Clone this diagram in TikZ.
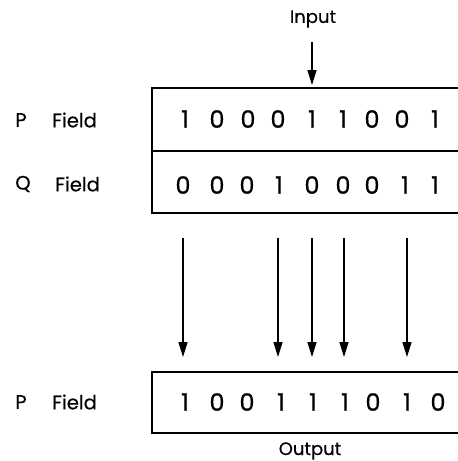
\documentclass[tikz,border=0pt]{standalone}
\usepackage{fontspec}
\setmainfont{Poppins}
\newfontfamily\heavyfont{Poppins}[FakeBold=0.7]
\newfontfamily\midfont{Poppins}[FakeBold=0.4]
\usetikzlibrary{arrows.meta}
\tikzset{
  boxline/.style={line width=2.4pt, line cap=rect},
  midline/.style={line width=2pt},
  flow/.style={line width=1.4pt, -{Triangle[length=15pt,width=9pt]}},
  digit/.style={font=\heavyfont\fontsize{24}{24}\selectfont, inner sep=0pt, anchor=center},
  lbl/.style={font=\midfont\fontsize{19.5}{19.5}\selectfont, inner sep=0pt},
  captext/.style={font=\midfont\fontsize{18}{18}\selectfont, inner sep=0pt},
}
\begin{document}
\begin{tikzpicture}[x=1pt,y=-1pt]
\useasboundingbox (0,0) rectangle (458,461);
% boxes
\draw[boxline] (458,88) -- (152,88) -- (152,213) -- (458,213);
\draw[midline] (152,151) -- (458,151);
\draw[boxline] (458,372) -- (152,372) -- (152,433) -- (458,433);
% labels
\node[lbl] (pl) at (21,120) {P};
\node[lbl, anchor=west] (pf) at (52,120) {Field};
\node[lbl] (ql) at (23,184) {Q};
\node[lbl, anchor=west] (qf) at (55,184) {Field};
\node[lbl] (ol) at (21,402) {P};
\node[lbl, anchor=west] (of) at (52,402) {Field};
% digits
\foreach \x/\d [count=\i] in {185/1,217/0,248/0,278/0,312/1,343/1,372/0,402/0,435/1}
  \node[digit] (p\i) at (\x,119) {\d};
\foreach \x/\d [count=\i] in {183/0,217/0,247/0,279/1,312/0,343/0,372/0,405/1,435/1}
  \node[digit] (q\i) at (\x,185) {\d};
\foreach \x/\d [count=\i] in {185/1,217/0,247/0,281/1,313/1,345/1,373/0,407/1,438/0}
  \node[digit] (o\i) at (\x,402) {\d};
% input / output
\node[captext] (input) at (313,19) {Input};
\node[captext] (output) at (310,451) {Output};
\coordinate (ia) at (312,42);
\coordinate (ib) at (312,85);
\draw[flow] (ia) -- (ib);
% transfer arrows
\foreach \x [count=\i] in {183,278,312,344,407} {
  \coordinate (s\i) at (\x,238);
  \coordinate (t\i) at (\x,357);
  \draw[flow] (s\i) -- (t\i);
}
\end{tikzpicture}
\end{document}
